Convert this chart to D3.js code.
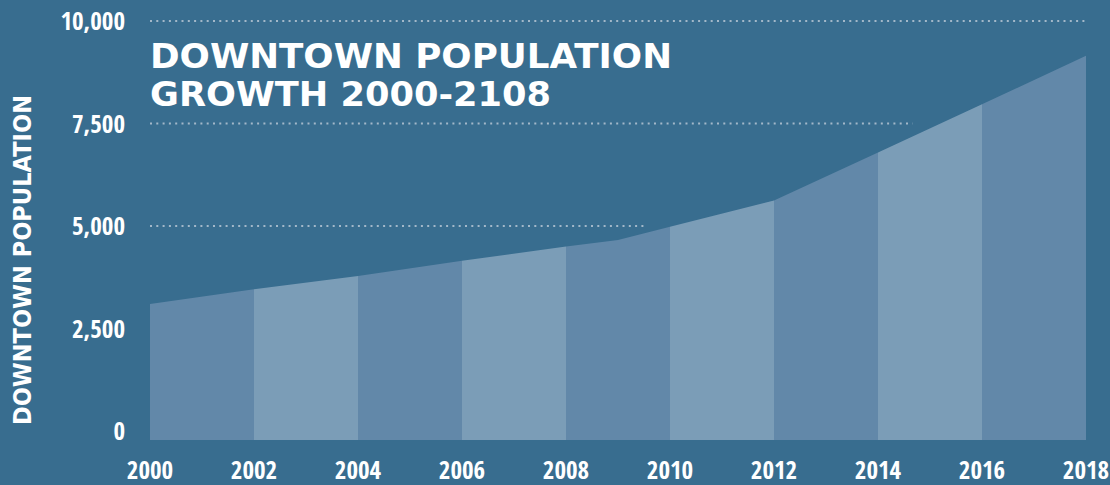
<!DOCTYPE html>
<html>

<head>
    <meta charset="utf-8">
    <style>
        body {
            margin: 0;
            background: #386d8f;
        }

        .tick-label {
            font: bold 25px "Liberation Sans Narrow", "Open Sans Condensed", "Roboto", sans-serif;
            fill: #fff;
        }

        .title {
            font: bold 34px "DejaVu Sans", "Open Sans", sans-serif;
            fill: #fff;
        }

        .axis-title {
            font: bold 24px "DejaVu Sans", "Open Sans", sans-serif;
            fill: #fff;
        }

        .grid {
            stroke: #a3b8c9;
            stroke-width: 2.2;
            stroke-dasharray: 2, 4.3;
        }
    </style>
</head>

<body>
    <svg width="1110" height="485"></svg>
    <script src="https://cdn.jsdelivr.net/npm/d3@7"></script>
    <script>
        // values
        var years = [2000, 2002, 2004, 2006, 2008, 2009, 2010, 2012, 2014, 2016, 2018];
        var population = [3100, 3460, 3780, 4150, 4500, 4660, 4980, 5620, 6790, 7970, 9150];
        var yTicks = [0, 2500, 5000, 7500, 10000];
        var xTicks = [2000, 2002, 2004, 2006, 2008, 2010, 2012, 2014, 2016, 2018];
        var titleLines = ["DOWNTOWN POPULATION", "GROWTH 2000-2108"];
        var yTitle = "DOWNTOWN POPULATION";

        var svg = d3.select("svg"),
            bandColors = ["#6288a9", "#7b9db7"],
            baseOffset = 9;

        var data = years.map(function(d, i) {
            return { year: d, value: population[i] };
        });

        var x = d3.scaleLinear()
            .domain([2000, 2018])
            .range([150, 1086]);

        var y = d3.scaleLinear()
            .domain([0, 10000])
            .range([431, 21]);

        var area = d3.area()
            .x(function(d) { return x(d.year); })
            .y0(y(0) + baseOffset)
            .y1(function(d) { return y(d.value); });

        svg.append("clipPath")
            .attr("id", "area-clip")
            .append("path")
            .attr("d", area(data));

        // alternating two-year bands, cut to the area shape
        var bands = d3.pairs(xTicks);
        svg.append("g")
            .attr("clip-path", "url(#area-clip)")
            .selectAll("rect")
            .data(bands)
            .enter().append("rect")
            .attr("x", function(d) { return x(d[0]); })
            .attr("width", function(d) { return x(d[1]) - x(d[0]); })
            .attr("y", y(10000))
            .attr("height", y(0) + baseOffset - y(10000))
            .style("fill", function(d, i) { return bandColors[i % 2]; });

        // where the area first reaches a value, so the dotted line can stop short of it
        function crossing(v) {
            if (data[0].value >= v) return 2000;
            for (var i = 1; i < data.length; i++) {
                if (data[i].value >= v) {
                    var a = data[i - 1], b = data[i];
                    return a.year + (v - a.value) / (b.value - a.value) * (b.year - a.year);
                }
            }
            return null;
        }

        function gridEnd(v) {
            var c = crossing(v);
            return c === null ? x(2018) : x(c) - 28;
        }

        svg.append("g")
            .selectAll("line")
            .data(yTicks.filter(function(d) { return d > 0 && gridEnd(d) > x(2000); }))
            .enter().append("line")
            .attr("class", "grid")
            .attr("x1", x(2000))
            .attr("x2", gridEnd)
            .attr("y1", function(d) { return y(d); })
            .attr("y2", function(d) { return y(d); });

        svg.append("g")
            .selectAll("text")
            .data(yTicks)
            .enter().append("text")
            .attr("class", "tick-label")
            .attr("x", 125)
            .attr("y", function(d) { return y(d); })
            .attr("dy", "0.36em")
            .attr("text-anchor", "end")
            .text(d3.format(","));

        svg.append("g")
            .selectAll("text")
            .data(xTicks)
            .enter().append("text")
            .attr("class", "tick-label")
            .attr("x", function(d) { return x(d); })
            .attr("y", 479)
            .attr("text-anchor", "middle")
            .text(function(d) { return d; });

        svg.append("g")
            .selectAll("text")
            .data(titleLines)
            .enter().append("text")
            .attr("class", "title")
            .attr("x", 150)
            .attr("y", function(d, i) { return 68 + i * 38; })
            .attr("textLength", function(d, i) { return i ? 401 : 522; })
            .attr("lengthAdjust", "spacingAndGlyphs")
            .text(function(d) { return d; });

        svg.append("text")
            .attr("class", "axis-title")
            .attr("transform", "translate(31,260) rotate(-90)")
            .attr("text-anchor", "middle")
            .attr("textLength", 330)
            .attr("lengthAdjust", "spacingAndGlyphs")
            .text(yTitle);
    </script>

</html>
